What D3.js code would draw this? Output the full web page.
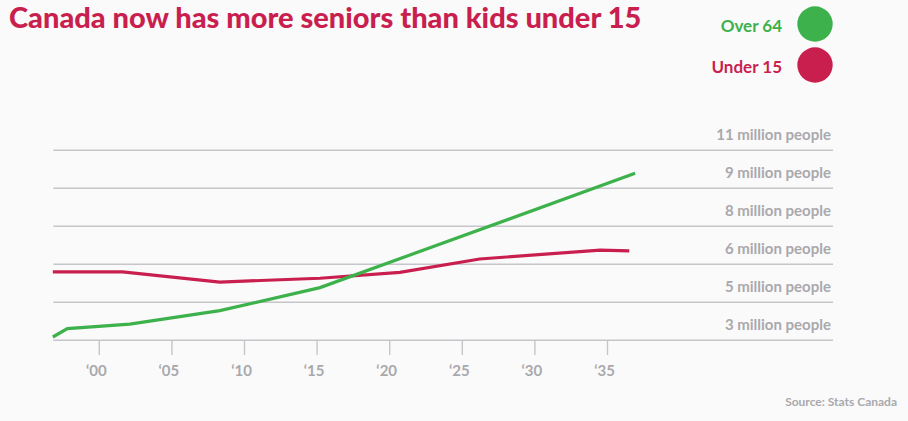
<!DOCTYPE html>
<html lang="en">
<head>
<meta charset="UTF-8">
<title>Canada seniors vs kids</title>
<script src="https://d3js.org/d3.v7.min.js"></script>
<style>
  body { margin: 0; background: #fafafa; }
  text { font-family: Lato, "Open Sans", sans-serif; font-weight: 700; }
</style>
</head>
<body>
<script>

    // values (millions of people)
    var seniorYears = [1996.8, 1997.8, 2002.1, 2008.3, 2015.2, 2036.9];
    var seniorValues = [3.63, 3.96, 4.14, 4.67, 5.58, 10.09];

    var kidYears = [1996.8, 2001.6, 2008.3, 2015.2, 2020.7, 2026.2, 2034.5, 2036.5];
    var kidValues = [6.20, 6.20, 5.80, 5.95, 6.18, 6.71, 7.06, 7.03];

    var gridValues = [3.5, 5, 6.5, 8, 9.5, 11];
    var gridLabels = ["3 million people", "5 million people", "6 million people",
                      "8 million people", "9 million people", "11 million people"];

    var tickYears = [2000, 2005, 2010, 2015, 2020, 2025, 2030, 2035];
    var tickLabels = ["\u201800", "\u201805", "\u201810", "\u201815", "\u201820", "\u201825", "\u201830", "\u201835"];

    var legendNames = ["Over 64", "Under 15"];
    var green = "#3db14b", red = "#c91f4f", grey = "#a9a9ad", gridColor = "#c6c6ca";

    var width = 908, height = 421;

    var svg = d3.select("body")
        .append("svg")
        .attr("width", width)
        .attr("height", height);

    svg.append("rect").attr("width", width).attr("height", height).attr("fill", "#fafafa");

    var xScale = d3.scaleLinear().domain([2000, 2035]).range([99.3, 607.5]);
    var yScale = d3.scaleLinear().domain([3.5, 11]).range([340.3, 150.3]);
    var left = 53.3, right = 833;

    // title
    svg.append("text")
        .attr("x", 9).attr("y", 28)
        .attr("fill", red)
        .style("font-size", "29px")
        .style("font-weight", 900)
        .text("Canada now has more seniors than kids under 15");

    // legend
    var colors = [green, red];
    legendNames.forEach(function (name, i) {
        var cy = 24 + i * 41;
        svg.append("circle").attr("cx", 815).attr("cy", cy).attr("r", 17.7).attr("fill", colors[i]);
        svg.append("text")
            .attr("x", 782).attr("y", cy + 8)
            .attr("text-anchor", "end")
            .attr("fill", colors[i])
            .style("font-size", "17px")
            .text(name);
    });

    // grid lines + labels
    svg.selectAll(".grid").data(gridValues).enter().append("line")
        .attr("class", "grid")
        .attr("x1", left).attr("x2", right)
        .attr("y1", function (d) { return yScale(d); })
        .attr("y2", function (d) { return yScale(d); })
        .attr("stroke", gridColor).attr("stroke-width", 1.5);

    svg.selectAll(".glabel").data(gridValues).enter().append("text")
        .attr("class", "glabel")
        .attr("x", 831)
        .attr("y", function (d) { return yScale(d) - 10; })
        .attr("text-anchor", "end")
        .attr("fill", grey)
        .style("font-size", "15px")
        .text(function (d, i) { return gridLabels[i]; });

    // x axis ticks
    svg.selectAll(".tick").data(tickYears).enter().append("line")
        .attr("class", "tick")
        .attr("x1", function (d) { return xScale(d); })
        .attr("x2", function (d) { return xScale(d); })
        .attr("y1", yScale(3.5)).attr("y2", 355)
        .attr("stroke", gridColor).attr("stroke-width", 1.4);

    svg.selectAll(".tlabel").data(tickYears).enter().append("text")
        .attr("class", "tlabel")
        .attr("x", function (d) { return xScale(d) - 3; })
        .attr("y", 376)
        .attr("text-anchor", "middle")
        .attr("fill", grey)
        .style("font-size", "15px")
        .text(function (d, i) { return tickLabels[i]; });

    // lines
    var line = d3.line()
        .x(function (d) { return xScale(d[0]); })
        .y(function (d) { return yScale(d[1]); });

    svg.append("path")
        .datum(kidYears.map(function (y, i) { return [y, kidValues[i]]; }))
        .attr("d", line)
        .attr("fill", "none").attr("stroke", red).attr("stroke-width", 3.2);

    svg.append("path")
        .datum(seniorYears.map(function (y, i) { return [y, seniorValues[i]]; }))
        .attr("d", line)
        .attr("fill", "none").attr("stroke", green).attr("stroke-width", 3.2);

    // source
    svg.append("text")
        .attr("x", 897).attr("y", 406)
        .attr("text-anchor", "end")
        .attr("fill", grey)
        .style("font-size", "12px")
        .text("Source: Stats Canada");

</script>
</body>
</html>
